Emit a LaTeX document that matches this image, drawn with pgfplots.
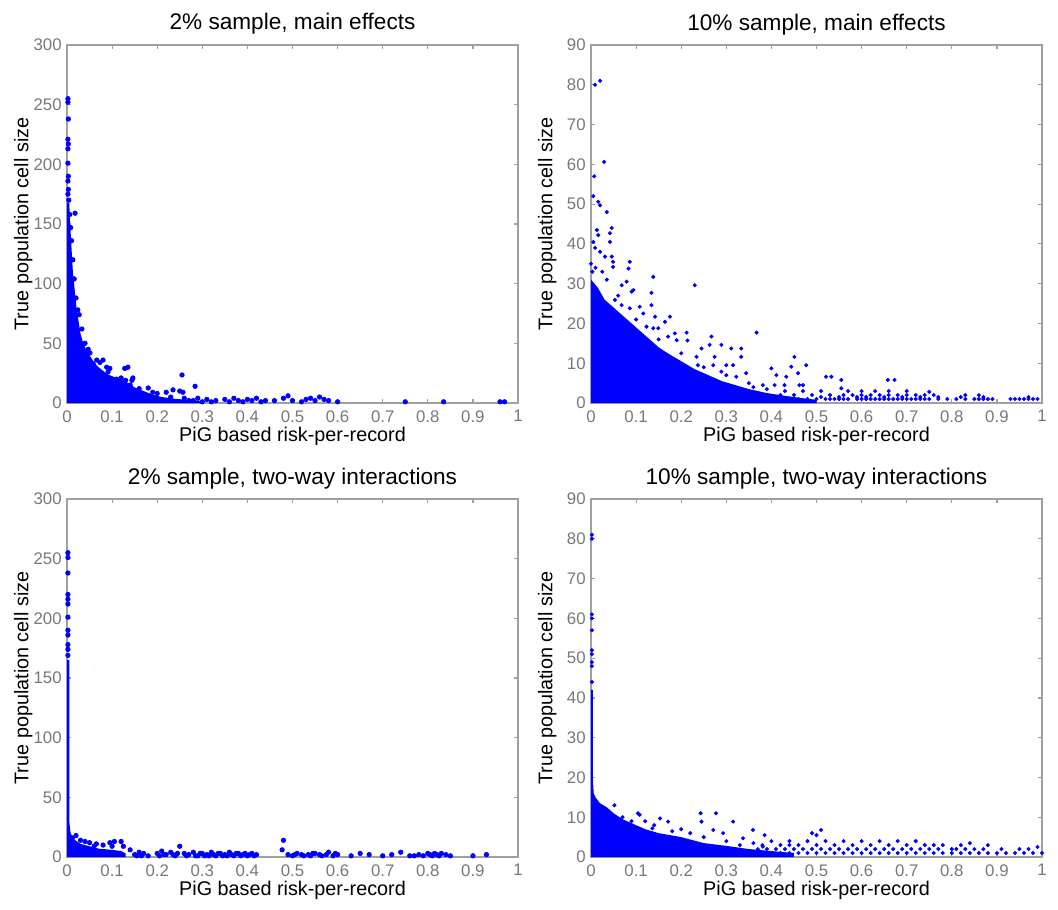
\documentclass[border=0pt]{standalone}
\usepackage{fontspec}
\setmainfont{Liberation Sans}
\usepackage{pgfplots}
\pgfplotsset{compat=1.18}
\definecolor{mblue}{RGB}{0,0,255}
\definecolor{axgray}{RGB}{160,160,160}
\definecolor{tkgray}{RGB}{120,120,120}

\pgfplotsset{
  mlab/.style={
    scale only axis, width=225.5pt, height=179pt,
    anchor=south west,
    xmin=0, xmax=1, ymin=0,
    xtick={0,0.1,0.2,0.3,0.4,0.5,0.6,0.7,0.8,0.9,1},
    xticklabels={0,0.1,0.2,0.3,0.4,0.5,0.6,0.7,0.8,0.9,1},
    tick align=inside, major tick length=2pt,
    axis line style={axgray, line width=1pt},
    tick style={color=axgray, line width=0.6pt},
    tick label style={font=\fontsize{8.4}{9}\selectfont, text=tkgray},
    xticklabel style={inner sep=0pt, yshift=-3.5pt},
    yticklabel style={inner sep=0pt, xshift=-2.5pt},
    xlabel={PiG based risk-per-record},
    ylabel={True population cell size},
    every axis x label/.style={at={(axis description cs:0.5,0)}, anchor=north, inner sep=0pt, yshift=-12pt, font=\fontsize{9.9}{11}\selectfont},
    every axis y label/.style={at={(axis description cs:-0.0754,0.5)}, rotate=90, anchor=south, inner sep=0pt, font=\fontsize{9.9}{11}\selectfont},
    every axis title/.style={at={(axis description cs:0.5,1)}, anchor=base, inner sep=0pt, yshift=7.5pt, font=\fontsize{11.3}{13}\selectfont},
    clip=false,
  },
  left/.style={mlab, ymax=300, ytick={0,50,100,150,200,250,300}, yticklabels={0,50,100,150,200,250,300}},
  right/.style={mlab, ymax=90, ytick={0,10,20,30,40,50,60,70,80,90}, yticklabels={0,10,20,30,40,50,60,70,80,90}},
  blob/.style={fill=mblue, draw=none},
  dotsA/.style={only marks, mark=*, mark size=1.1pt, mblue},
  dotsB/.style={only marks, mark=*, mark size=0.8pt, mblue},
}

\begin{document}
\begin{tikzpicture}
\path[use as bounding box] (0,0) rectangle (529pt,-454.5pt);

% 2% sample, main effects
\begin{axis}[left, at={(33.5pt,-201.5pt)}, title={2\% sample, main effects}]
\addplot[blob] coordinates {(0,0) (0,168) (0.005,168) (0.007,150) (0.01,130) (0.013,110) (0.017,95) (0.021,80) (0.025,70) (0.03,58) (0.036,50) (0.042,45) (0.05,40) (0.06,34) (0.07,30) (0.08,27) (0.09,24) (0.11,21) (0.13,18) (0.15,13) (0.17,10) (0.19,7) (0.21,5) (0.24,3.5) (0.27,2.5) (0.3,1.5) (0.3,0)} \closedcycle;
\addplot[dotsA] coordinates {
(0.002,255) (0.002,252) (0.003,238) (0.002,221) (0.003,217) (0.002,213) (0.002,201) (0.003,190) (0.002,186) (0.003,179) (0.002,175) (0.004,170)
(0.018,159) (0.006,158) (0.008,147) (0.01,136) (0.013,120) (0.016,104) (0.02,88) (0.024,78) (0.027,74) (0.033,62) (0.04,50)
(0.047,45) (0.051,42) (0.058,33) (0.066,36) (0.073,34) (0.08,36) (0.088,30) (0.095,29) (0.091,26) (0.128,29) (0.135,30)
(0.11,20) (0.12,21) (0.13,19) (0.144,19) (0.146,21) (0.14,15) (0.16,12) (0.18,12.6) (0.19,9) (0.2,8) (0.22,9) (0.235,11)
(0.25,10) (0.255,23.5) (0.257,9) (0.284,14) (0.23,5) (0.26,4) (0.27,2)
(0.28,2) (0.29,4) (0.3,1) (0.31,3) (0.32,1) (0.33,2) (0.35,3) (0.36,1) (0.37,4) (0.38,2) (0.39,1) (0.4,3) (0.41,2) (0.42,4)
(0.43,1) (0.44,2) (0.46,2) (0.48,4) (0.49,6) (0.5,2) (0.52,1) (0.53,3) (0.54,4) (0.55,2) (0.56,5) (0.57,3) (0.58,2) (0.6,1)
(0.75,1) (0.835,1) (0.96,1) (0.97,1)};
\end{axis}

% 10% sample, main effects
\begin{axis}[right, at={(295.5pt,-201.5pt)}, title={10\% sample, main effects}]
\addplot[blob] coordinates {(0,0) (0,31) (0.015,29) (0.03,26) (0.05,24) (0.07,22) (0.09,20) (0.11,18) (0.13,16) (0.15,14) (0.17,12.5) (0.2,10.5) (0.23,8.5) (0.26,7) (0.29,5.5) (0.32,4.5) (0.35,3.5) (0.39,2.5) (0.43,1.8) (0.47,1.2) (0.5,0.8) (0.5,0)} \closedcycle;
\addplot[dotsB] coordinates {
(0.02,81) (0.009,80) (0.029,60.6) (0.007,57) (0.005,52) (0.016,50.6) (0.02,49.7) (0.035,48) (0.013,43.5) (0.016,42.2)
(0.046,44) (0.042,42.7) (0.042,40.5) (0.005,40.5) (0.009,39) (0.02,38) (0.031,36.8) (0.046,36.8) (0.049,35.5) (0.049,34.2)
(0.086,35.5) (0.083,33.8) (0.138,31.7) (0.23,29.6) (0.068,29.6) (0.079,30.5) (0.094,28.4) (0.09,28) (0.134,27.7) (0.134,24.6)
(0.053,25.9) (0.068,24.6) (0.086,23.8) (0.108,24.2) (0.116,22.5) (0.175,21.7) (0.164,20.4) (0.142,21.7) (0.123,19.2) (0.138,18.8)
(0.149,18.8) (0.171,16.7) (0.186,17.5) (0.19,15.8) (0.212,17.7) (0.214,15.7) (0.267,16.7) (0.245,13.7) (0.263,14.6) (0.289,14.6)
(0.311,13.7) (0.333,13.7) (0.333,11.6) (0.367,17.7) (0.234,11.6) (0.274,11.6) (0.237,9.5) (0.271,9.5) (0.3,9.5) (0.315,9.5)
(0.344,7.5) (0.289,7.9) (0.322,6.6) (0.451,11.6) (0.4,8.7) (0.444,9.1) (0.477,9.5) (0.459,7.5) (0.411,7) (0.433,6.6)
(0.521,6.6) (0.533,6.6) (0.381,4.5) (0.407,4.5) (0.429,4.5) (0.462,4.5) (0.47,4.5) (0.555,5.8) (0.555,3.7) (0.658,5.8) (0.673,5.8)
(0,35) (0.003,33) (0.01,34) (0.025,33) (0.035,31) (0.06,27) (0.1,21) (0.15,16) (0.2,12.5) (0.25,9) (0.3,7) (0.35,5) (0.36,4) (0.39,3.5)
(0.38,1) (0.4,1) (0.42,1) (0.44,1) (0.46,1) (0.48,1) (0.5,1) (0.52,1) (0.53,1) (0.54,1) (0.55,1) (0.56,1) (0.57,1) (0.59,1) (0.6,1)
(0.61,1) (0.62,1) (0.63,1) (0.64,1) (0.65,1) (0.66,1) (0.67,1) (0.68,1) (0.69,1) (0.7,1) (0.71,1) (0.72,1) (0.73,1) (0.74,1)
(0.75,1) (0.77,1) (0.79,1) (0.81,1) (0.83,1) (0.85,1) (0.86,1) (0.87,1) (0.88,1) (0.89,1)
(0.93,1) (0.94,1) (0.95,1) (0.96,1) (0.97,1) (0.98,1) (0.99,1)
(0.51,1.5) (0.55,1.5) (0.59,1.5) (0.61,1.5) (0.65,1.5) (0.69,1.5) (0.73,1.5) (0.77,1.5) (0.82,1.5) (0.87,1.5) (0.97,1.5)
(0.42,2) (0.45,2) (0.49,2) (0.53,2) (0.56,2) (0.58,2) (0.6,2) (0.62,2) (0.64,2) (0.66,2) (0.68,2) (0.7,2) (0.72,2) (0.74,2) (0.76,2) (0.83,2) (0.86,2)
(0.43,3) (0.47,3) (0.51,3) (0.57,3) (0.6,3) (0.63,3) (0.66,3) (0.7,3) (0.75,2.8)};
\end{axis}

% 2% sample, two-way interactions
\begin{axis}[left, at={(33.5pt,-428.5pt)}, title={2\% sample, two-way interactions}]
\addplot[blob] coordinates {(0,0) (0,165) (0.005,165) (0.005,30) (0.008,20) (0.015,15) (0.03,11) (0.05,9) (0.07,7) (0.1,6) (0.12,5) (0.13,3) (0.13,0)} \closedcycle;
\addplot[dotsA] coordinates {
(0.002,255) (0.002,251) (0.002,238) (0.002,220) (0.002,216) (0.002,212) (0.002,201) (0.002,190) (0.002,186) (0.002,178) (0.002,174) (0.002,169)
(0.02,18) (0.012,16) (0.03,14) (0.04,13) (0.05,12) (0.065,11) (0.08,10) (0.095,12) (0.105,13) (0.12,13) (0.125,9) (0.14,6) (0.1,9) (0.06,9)
(0.15,2) (0.16,4) (0.17,3) (0.18,1) (0.2,3) (0.21,5) (0.22,2) (0.23,4) (0.24,1) (0.25,9) (0.26,3) (0.27,2)
(0.28,4) (0.29,1) (0.3,3) (0.31,2) (0.32,4) (0.33,1) (0.34,3) (0.35,2) (0.36,4) (0.37,1) (0.38,3) (0.39,2) (0.4,1) (0.41,3) (0.42,2)
(0.155,1) (0.165,1) (0.205,1) (0.215,2) (0.235,2) (0.245,3) (0.265,1) (0.285,1) (0.295,3) (0.305,1) (0.315,1) (0.325,2)
(0.335,3) (0.345,1) (0.355,1) (0.365,2) (0.375,3) (0.385,1) (0.395,3) (0.405,2) (0.415,1)
(0.48,14) (0.477,6) (0.49,2) (0.5,1) (0.51,3) (0.52,2) (0.54,1) (0.55,3) (0.56,2) (0.58,4) (0.59,1) (0.6,2)
(0.505,2) (0.525,1) (0.535,2) (0.545,3) (0.565,1) (0.575,2) (0.595,3)
(0.63,1) (0.65,3) (0.67,2) (0.7,1) (0.72,2) (0.74,4) (0.76,1) (0.78,2) (0.8,3) (0.81,1) (0.82,2) (0.83,3) (0.85,1) (0.9,1) (0.93,2)
(0.77,1) (0.79,1) (0.805,2) (0.815,3) (0.825,1) (0.84,2)};
\end{axis}

% 10% sample, two-way interactions
\begin{axis}[right, at={(295.5pt,-428.5pt)}, title={10\% sample, two-way interactions}]
\addplot[blob] coordinates {(0,0) (0,42) (0.004,42) (0.004,20) (0.006,16) (0.01,15) (0.02,13.5) (0.035,12.5) (0.05,11) (0.07,9.5) (0.09,8.5) (0.12,7) (0.15,6) (0.2,5) (0.25,3.5) (0.3,2.8) (0.35,2) (0.4,1.5) (0.45,1) (0.45,0)} \closedcycle;
\addplot[dotsB] coordinates {
(0.002,81) (0.002,80) (0.002,61) (0.002,60) (0.002,57) (0.002,52) (0.002,51) (0.002,49) (0.002,48) (0.002,44)
(0.052,13) (0.104,11) (0.108,10.6) (0.153,9.7) (0.171,8.9) (0.136,7.2) (0.243,11) (0.277,11) (0.245,8.9) (0.315,8.9)
(0.359,6.8) (0.385,5.5) (0.271,6.8) (0.293,6) (0.337,4.7) (0.5,5.5) (0.51,6.8) (0.49,6) (0.381,2.6)
(0.07,10) (0.09,9) (0.12,9) (0.14,8) (0.2,7) (0.22,6) (0.18,6.5) (0.25,5) (0.3,4) (0.33,3) (0.36,3.5) (0.4,4) (0.42,3) (0.44,4) (0.46,3) (0.48,4) (0.52,4)
(0.36,1) (0.38,1) (0.4,1) (0.42,1) (0.44,1) (0.46,1) (0.48,1) (0.5,1) (0.52,1) (0.54,1) (0.56,1) (0.58,1) (0.6,1) (0.62,1)
(0.64,1) (0.66,1) (0.68,1) (0.7,1) (0.72,1) (0.74,1) (0.76,1) (0.78,1) (0.8,1) (0.82,1) (0.84,1) (0.86,1) (0.88,1) (0.9,1)
(0.92,1) (0.94,1) (0.96,1) (0.98,1) (1,1)
(0.37,2) (0.39,2) (0.41,2) (0.43,2) (0.45,2) (0.47,2) (0.49,2) (0.51,2) (0.53,2) (0.55,2) (0.57,2) (0.59,2) (0.61,2) (0.63,2) (0.65,2) (0.67,2)
(0.69,2) (0.71,2) (0.73,2) (0.75,2) (0.77,2) (0.8,2) (0.81,2) (0.83,2) (0.85,2) (0.87,2) (0.91,2) (0.95,2) (0.97,2) (0.99,2.5)
(0.38,3) (0.44,3) (0.5,3) (0.54,3) (0.58,3) (0.62,3) (0.66,3) (0.7,3) (0.74,3) (0.76,3) (0.78,3) (0.82,3) (0.88,3)
(0.56,4) (0.6,4) (0.64,4) (0.68,4) (0.72,4) (0.84,3.5)};
\end{axis}
\end{tikzpicture}
\end{document}
